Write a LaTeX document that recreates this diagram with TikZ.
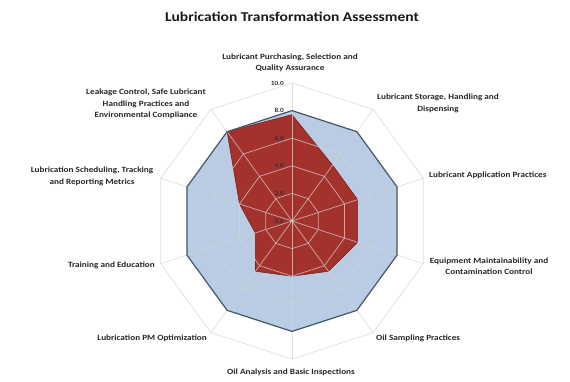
\documentclass[tikz,border=0pt]{standalone}
\usepackage{fontspec}
\setmainfont{Carlito}[FakeStretch=1.15]
\definecolor{bluefill}{HTML}{BACCE3}
\definecolor{blueedge}{HTML}{46566A}
\definecolor{redfill}{HTML}{A3322C}
\definecolor{rededge}{HTML}{7E1F1A}
\definecolor{gridc}{HTML}{D4D4D4}
\begin{document}
\begin{tikzpicture}[x=1pt,y=1pt,
  lbl/.style={font=\fontsize{8}{11.5}\selectfont\bfseries, align=center, text=black!85, inner sep=0pt},
  ticklbl/.style={font=\fontsize{6.3}{7}\selectfont\bfseries, text=black!80, inner sep=0pt, anchor=east},
  gridline/.style={draw=gridc, line width=0.7pt, opacity=0.75}]
\useasboundingbox (0,0) rectangle (570,-381);
\node[font=\fontsize{13.5}{15}\selectfont\bfseries, text=black!90] (title) at (292,-17) {Lubrication Transformation Assessment};
\begin{scope}[shift={(292,-221)}]
  % target series (8.0)
  \fill[bluefill] (90:110.4) \foreach \a in {54,18,...,-234} {-- (\a:110.4)} -- cycle;
  % actual series
  \fill[redfill, draw=rededge, line width=0.6pt]
    (90:106.3) -- (54:69) -- (18:69) -- (-18:69) -- (-54:62.1) -- (-90:55.2)
    -- (-126:62.1) -- (-162:38.6) -- (-198:55.2) -- (-234:110.4) -- cycle;
  % grid
  \foreach \r in {27.6,55.2,82.8,110.4,138}{
    \draw[gridline] (90:\r) \foreach \a in {54,18,...,-234} {-- (\a:\r)} -- cycle;
  }
  \foreach \a in {90,54,...,-234}{
    \draw[gridline] (0,0) -- (\a:138);
  }
  % target outline
  \draw[blueedge, line width=1.2pt] (90:110.4) \foreach \a in {54,18,...,-234} {-- (\a:110.4)} -- cycle;
  % tick labels
  \node[ticklbl] (t0) at (-8,0) {0.0};
  \node[ticklbl] (t2) at (-8,27.6) {2.0};
  \node[ticklbl] (t4) at (-8,55.2) {4.0};
  \node[ticklbl] (t6) at (-8,82.8) {6.0};
  \node[ticklbl] (t8) at (-8,110.4) {8.0};
  \node[ticklbl] (t10) at (-8,138) {10.0};
\end{scope}
% category labels
\node[lbl] (c1) at (290,-63) {Lubricant Purchasing, Selection and\\Quality Assurance};
\node[lbl] (c2) at (438,-103.5) {Lubricant Storage, Handling and\\Dispensing};
\node[lbl, anchor=west] (c3) at (429,-175) {Lubricant Application Practices};
\node[lbl] (c4) at (489,-266) {Equipment Maintainability and\\Contamination Control};
\node[lbl, anchor=west] (c5) at (376,-338) {Oil Sampling Practices};
\node[lbl] (c6) at (291,-372) {Oil Analysis and Basic Inspections};
\node[lbl, anchor=east] (c7) at (207,-338) {Lubrication PM Optimization};
\node[lbl, anchor=east] (c8) at (155,-265) {Training and Education};
\node[lbl] (c9) at (92,-176.5) {Lubrication Scheduling, Tracking\\and Reporting Metrics};
\node[lbl] (c10) at (146,-104) {Leakage Control, Safe Lubricant\\Handling Practices and\\Environmental Compliance};
\end{tikzpicture}
\end{document}
